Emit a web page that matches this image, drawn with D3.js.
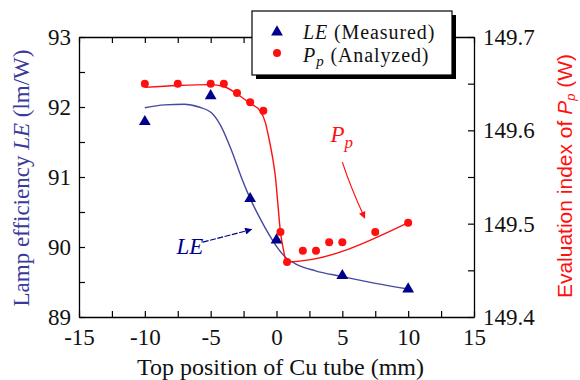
<!DOCTYPE html>
<html>
<head>
<meta charset="utf-8">
<script src="https://cdn.jsdelivr.net/npm/d3@7"></script>
<style>
  body { margin: 0; background: #fff; }
  text { font-family: "Liberation Serif", "Times New Roman", serif; }
</style>
</head>
<body>
<div id="chart-area"></div>
<script>
// data

// LE measured (left axis)
const leX = [-10, -5, -2, 0, 5, 10];
const leY = [91.79, 92.16, 90.69, 90.10, 89.59, 89.40];

// LE fitted curve
const leFitX = [-10, -8.5, -7, -5.9, -4.9, -4.2, -3.4, -2.66, -1.97, -1.14, -0.38, 0.15, 0.76, 1.44, 2.96, 4.94, 7.52, 10];
const leFitY = [91.99, 92.03, 92.04, 92.0, 91.91, 91.72, 91.37, 90.99, 90.68, 90.37, 90.12, 89.97, 89.84, 89.76, 89.66, 89.58, 89.48, 89.40];

// Pp analyzed (right axis)
const ppX = [-10, -7.5, -5, -4, -3, -2, -1, 0.3, 0.8, 2, 3, 4, 5, 7.5, 10];
const ppY = [149.650, 149.650, 149.650, 149.650, 149.640, 149.630, 149.621, 149.491, 149.459, 149.471, 149.471, 149.480, 149.480, 149.491, 149.501];

// Pp fitted curve
const ppFitX = [-10, -7.5, -5, -4, -3.1, -2.13, -1.2, -0.84, -0.6, -0.3, -0.08, 0.08, 0.3, 0.53, 0.76, 10];
const ppFitY = [149.646, 149.648, 149.649, 149.647, 149.640, 149.630, 149.620, 149.608, 149.593, 149.571, 149.550, 149.525, 149.491, 149.472, 149.459, 149.501];

// ticks
const xTicks = [-15, -10, -5, 0, 5, 10, 15];
const xMinor = [-15, -12.5, -10, -7.5, -5, -2.5, 0, 2.5, 5, 7.5, 10, 12.5, 15];
const yLTicks = [89, 90, 91, 92, 93];
const yLMinor = [89.5, 90.5, 91.5, 92.5];
const yRTicks = [149.4, 149.5, 149.6, 149.7];
const yRMinor = [149.45, 149.55, 149.65];

// layout
const W = 580, H = 380;
const plot = {LEFT: 79, TOP: 37, RIGHT: 474, BOTTOM: 317};

const RED = "#ff1010", NAVY = "#00008c", BLUE_LINE = "#4848a0", BLUE_TEXT = "#3a3a9c";

let svg = d3.select("#chart-area").append("svg")
            .attr("width", W)
            .attr("height", H);

let x = d3.scaleLinear().domain([-15, 15]).range([plot.LEFT, plot.RIGHT]),
    yL = d3.scaleLinear().domain([89, 93]).range([plot.BOTTOM, plot.TOP]),
    yR = d3.scaleLinear().domain([149.4, 149.7]).range([plot.BOTTOM, plot.TOP]);

const tickLen = 6;

// axes (ticks point inward)
function styleAxis(g) {
  g.select(".domain").attr("stroke", "#000").attr("stroke-width", 1.3);
  g.selectAll(".tick line").attr("stroke", "#000").attr("stroke-width", 1.2);
  g.selectAll(".tick text").attr("fill", "#111")
   .style("font-family", "Liberation Serif").style("font-size", "23px");
}

svg.append("g")
   .attr("transform", `translate(0,${plot.BOTTOM})`)
   .call(d3.axisBottom(x).tickValues(xMinor).tickSizeInner(-tickLen).tickSizeOuter(0)
           .tickPadding(tickLen + 6)
           .tickFormat(d => xTicks.includes(d) ? d : ""))
   .call(styleAxis);

svg.append("g")
   .attr("transform", `translate(0,${plot.TOP})`)
   .call(d3.axisTop(x).tickValues(xMinor).tickSizeInner(-tickLen).tickSizeOuter(0).tickFormat(""))
   .call(styleAxis);

svg.append("g")
   .attr("transform", `translate(${plot.LEFT},0)`)
   .call(d3.axisLeft(yL).tickValues(yLTicks.concat(yLMinor)).tickSizeInner(-tickLen).tickSizeOuter(0)
           .tickPadding(tickLen + 2)
           .tickFormat(d => yLTicks.includes(d) ? d : ""))
   .call(styleAxis);

svg.append("g")
   .attr("transform", `translate(${plot.RIGHT},0)`)
   .call(d3.axisRight(yR).tickValues(yRTicks.concat(yRMinor)).tickSizeInner(-tickLen).tickSizeOuter(0)
           .tickPadding(tickLen + 3)
           .tickFormat(d => yRTicks.includes(d) ? d3.format(".1f")(d) : ""))
   .call(styleAxis);

// fitted curves
let leLine = d3.line().x(d => x(d[0])).y(d => yL(d[1])).curve(d3.curveMonotoneX);
let ppLine = d3.line().x(d => x(d[0])).y(d => yR(d[1])).curve(d3.curveMonotoneX);

svg.append("path")
   .attr("d", leLine(leFitX.map((v, i) => [v, leFitY[i]])))
   .attr("fill", "none").attr("stroke", BLUE_LINE).attr("stroke-width", 1.4);

svg.append("path")
   .attr("d", ppLine(ppFitX.map((v, i) => [v, ppFitY[i]])))
   .attr("fill", "none").attr("stroke", RED).attr("stroke-width", 1.4);

// markers
let tri = d3.symbol().type(d3.symbolTriangle).size(60);

svg.append("g").selectAll("path")
   .data(leX.map((v, i) => [v, leY[i]]))
   .enter().append("path")
   .attr("d", tri)
   .attr("transform", d => `translate(${x(d[0])},${yL(d[1])})`)
   .attr("fill", NAVY);

svg.append("g").selectAll("circle")
   .data(ppX.map((v, i) => [v, ppY[i]]))
   .enter().append("circle")
   .attr("cx", d => x(d[0]))
   .attr("cy", d => yR(d[1]))
   .attr("r", 4)
   .attr("fill", RED);

// annotations with arrows
let defs = svg.append("defs");
function marker(id, color) {
  defs.append("marker")
      .attr("id", id).attr("viewBox", "0 0 10 10")
      .attr("refX", 9).attr("refY", 5)
      .attr("markerWidth", 9).attr("markerHeight", 7)
      .attr("markerUnits", "userSpaceOnUse")
      .attr("orient", "auto")
      .append("path").attr("d", "M0,0 L10,5 L0,10 Z").attr("fill", color);
}
marker("arrBlue", NAVY);
marker("arrRed", RED);

svg.append("text")
   .attr("x", x(-7.6)).attr("y", yL(89.9))
   .attr("fill", NAVY).attr("font-style", "italic").style("font-size", "23px")
   .text("LE");

svg.append("line")
   .attr("x1", x(-5.6)).attr("y1", yL(90.07))
   .attr("x2", x(-1.9)).attr("y2", yL(90.25))
   .attr("stroke", NAVY).attr("stroke-width", 1.2)
   .attr("stroke-dasharray", "6,1.5")
   .attr("marker-end", "url(#arrBlue)");

let ppLab = svg.append("text")
   .attr("x", x(4.1)).attr("y", yR(149.588))
   .attr("fill", RED).attr("font-style", "italic").style("font-size", "23px");
ppLab.append("tspan").text("P");
ppLab.append("tspan").attr("dy", 6).style("font-size", "17px").text("p");

svg.append("path")
   .attr("d", `M${x(5.0)},${yR(149.566)} Q${x(5.6)},${yR(149.54)} ${x(6.7)},${yR(149.506)}`)
   .attr("fill", "none").attr("stroke", RED).attr("stroke-width", 1.2)
   .attr("marker-end", "url(#arrRed)");

// axis titles
svg.append("text")
   .attr("x", (plot.LEFT + plot.RIGHT) / 2 + 4).attr("y", 375)
   .attr("text-anchor", "middle").attr("fill", "#111")
   .style("font-size", "24px")
   .text("Top position of Cu tube (mm)");

let lt = svg.append("text")
   .attr("transform", `translate(29,178) rotate(-90)`)
   .attr("text-anchor", "middle").attr("fill", BLUE_TEXT)
   .style("font-size", "23px");
lt.append("tspan").text("Lamp efficiency ");
lt.append("tspan").attr("font-style", "italic").text("LE");
lt.append("tspan").text(" (lm/W)");

let rt = svg.append("text")
   .attr("transform", `translate(572,176) rotate(-90)`)
   .attr("text-anchor", "middle").attr("fill", RED)
   .style("font-family", "Liberation Sans").style("font-size", "21px");
rt.append("tspan").text("Evaluation index of ");
rt.append("tspan").attr("font-style", "italic").text("P");
rt.append("tspan").attr("font-style", "italic").attr("dy", 3).style("font-size", "13px").text("p");
rt.append("tspan").attr("dy", -3).text(" (W)");

// legend
let lg = svg.append("g");
lg.append("rect").attr("x", 256).attr("y", 15).attr("width", 200).attr("height", 64).attr("fill", "#000");
lg.append("rect").attr("x", 252).attr("y", 11).attr("width", 200).attr("height", 64)
  .attr("fill", "#fff").attr("stroke", "#000").attr("stroke-width", 1.2);

lg.append("path").attr("d", d3.symbol().type(d3.symbolTriangle).size(60))
  .attr("transform", "translate(277,32)").attr("fill", NAVY);
lg.append("circle").attr("cx", 277).attr("cy", 53).attr("r", 4).attr("fill", RED);

let l1 = lg.append("text").attr("x", 303).attr("y", 39).attr("fill", "#111")
  .style("font-size", "20px").style("letter-spacing", "0.9px");
l1.append("tspan").attr("font-style", "italic").text("LE");
l1.append("tspan").text(" (Measured)");

let l2 = lg.append("text").attr("x", 303).attr("y", 62).attr("fill", "#111")
  .style("font-size", "20px").style("letter-spacing", "0.9px");
l2.append("tspan").attr("font-style", "italic").text("P");
l2.append("tspan").attr("font-style", "italic").attr("dy", 4).style("font-size", "15px").text("p");
l2.append("tspan").attr("dy", -4).text(" (Analyzed)");
</script>
</body>
</html>
